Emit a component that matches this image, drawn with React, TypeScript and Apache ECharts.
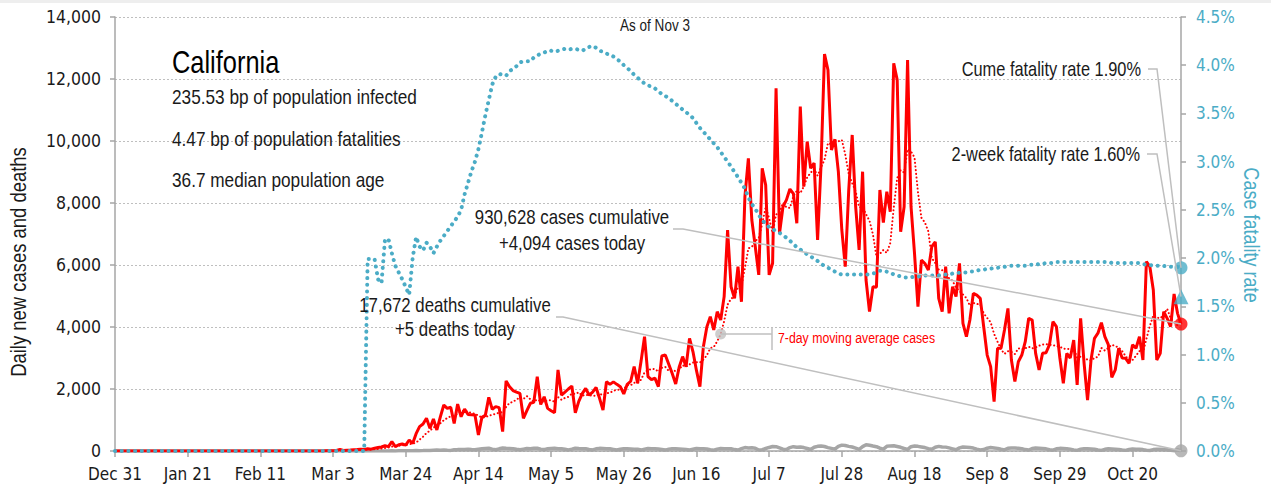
import React, { useEffect, useRef } from 'react';
import * as echarts from 'echarts';

const FONT = '"Liberation Sans", Arial, sans-serif';
const AXIS_FONT = '"DejaVu Sans Condensed", "DejaVu Sans", sans-serif';
const NARROW = 0.82;
const RED = '#ff0000';
const BLUE = '#4bacc6';
const GRAY = '#a6a6a6';
const LEADER = '#bfbfbf';
const TEXT = '#1a1a1a';

const START_YEAR = 2019, START_MONTH = 11, START_DAY = 31;
const N_DAYS = 309;
const MONTHS = ['Jan', 'Feb', 'Mar', 'Apr', 'May', 'Jun', 'Jul', 'Aug', 'Sep', 'Oct', 'Nov', 'Dec'];
const TICK_EVERY = 21;

const TITLE = 'California';
const STATS = ['235.53 bp of population infected', '4.47 bp of population fatalities', '36.7 median population age'];
const AS_OF = 'As of Nov 3';
const LEFT_NAME = 'Daily new cases and deaths';
const RIGHT_NAME = 'Case fatality rate';
const CUM_CASES = '930,628';
const TODAY_CASES = 4094;
const CUM_DEATHS = '17,672';
const TODAY_DEATHS = 5;
const CUME_CFR = 1.9;
const TWO_WEEK_CFR = 1.6;

const Y_LEFT = { min: 0, max: 14000, interval: 2000 };
const Y_RIGHT = { min: 0, max: 4.5, interval: 0.5 };

// daily new cases, Dec 31 .. Nov 3
const CASES = [
  0, 0, 0, 0, 0, 0, 0, 0, 0, 0,
  0, 0, 0, 0, 0, 0, 0, 0, 0, 0,
  0, 0, 0, 0, 0, 0, 0, 0, 0, 0,
  0, 0, 0, 0, 0, 0, 0, 0, 0, 0,
  0, 0, 0, 0, 0, 0, 0, 0, 0, 0,
  0, 0, 0, 0, 0, 0, 0, 0, 0, 0,
  0, 5, 10, 8, 15, 50, 20, 25, 30, 40,
  45, 60, 50, 70, 60, 90, 110, 130, 170, 140,
  300, 140, 200, 225, 190, 355, 240, 560, 785, 870,
  1055, 730, 1030, 680, 1100, 1485, 1375, 1410, 890, 1515,
  1105, 1355, 1180, 1170, 1160, 515, 1085, 1150, 1730, 1345,
  1430, 1400, 625, 2260, 2075, 1950, 1900, 1860, 1055, 1300,
  1540, 1570, 2400, 1500, 1750, 1375, 1300, 1235, 2615, 1805,
  1900, 2000, 2095, 1235, 1600, 1850, 2020, 1800, 1900, 2050,
  1700, 1320, 2240, 2150, 2230, 2150, 2075, 1840, 2150, 2250,
  2720, 2185, 2900, 3690, 2400, 2300, 2350, 2075, 3065, 3100,
  2800, 2500, 2160, 2700, 3045, 2720, 3635, 3200, 2600, 2075,
  3365, 4000, 4335, 3905, 4495, 4225, 4980, 7130, 5300, 4925,
  5945, 4815, 8205, 9440, 7450, 6590, 5680, 9120, 8580, 5680,
  6055, 11700, 7020, 7880, 8100, 8450, 8300, 7345, 11110, 8525,
  9980, 9120, 9290, 6805, 9240, 12805, 12290, 9710, 10055, 9010,
  7130, 5945, 8420, 10195, 7880, 6485, 9010, 5515, 4495, 5300,
  5285, 8420, 7365, 8365, 7720, 12505, 11970, 7075, 7880, 12610,
  7880, 6380, 4655, 6160, 6050, 5840, 6590, 6750, 4925, 4495,
  5945, 4440, 5300, 4980, 6055, 4120, 3690, 4225, 5085, 5030,
  4925, 4000, 3095, 2720, 1590, 3315, 3315, 3905, 4600, 2935,
  2240, 2880, 3095, 3525, 4280, 4225, 3150, 2615, 3150, 3170,
  3430, 4170, 4010, 3000, 2185, 3150, 3000, 3580, 2130, 4280,
  2830, 1645, 2935, 3635, 3800, 4140, 3690, 3430, 2375, 2615,
  3315, 3000, 2990, 2830, 3430, 3315, 3690, 2935, 6110, 5945,
  5195, 2935, 3150, 4495, 4280, 4010, 5065, 4440, 4094,
];

// daily deaths
const DEATHS = [
  0, 0, 0, 0, 0, 0, 0, 0, 0, 0,
  0, 0, 0, 0, 0, 0, 0, 0, 0, 0,
  0, 0, 0, 0, 0, 0, 0, 0, 0, 0,
  0, 0, 0, 0, 0, 0, 0, 0, 0, 0,
  0, 0, 0, 0, 0, 0, 0, 0, 0, 0,
  0, 0, 0, 0, 0, 0, 0, 0, 0, 0,
  0, 0, 0, 0, 1, 0, 0, 1, 0, 1,
  0, 1, 1, 2, 1, 2, 3, 2, 4, 3,
  5, 4, 6, 8, 5, 7, 9, 14, 12, 15,
  20, 18, 25, 30, 28, 35, 22, 20, 40, 45,
  52, 50, 58, 45, 40, 60, 70, 80, 90, 60,
  40, 70, 95, 85, 80, 75, 55, 40, 60, 80,
  75, 85, 90, 60, 45, 70, 80, 85, 75, 70,
  55, 35, 60, 90, 80, 75, 70, 50, 35, 70,
  85, 80, 75, 70, 50, 30, 55, 75, 70, 65,
  60, 55, 30, 60, 80, 75, 70, 65, 50, 30,
  60, 75, 70, 65, 60, 45, 30, 55, 80, 70,
  75, 65, 40, 25, 60, 80, 75, 70, 70, 45,
  30, 75, 110, 95, 105, 90, 30, 40, 80, 115,
  145, 140, 100, 60, 45, 110, 140, 120, 130, 110,
  80, 50, 120, 150, 160, 145, 110, 85, 60, 150,
  190, 175, 150, 130, 95, 55, 140, 200, 185, 160,
  140, 90, 60, 150, 165, 170, 145, 120, 80, 50,
  140, 160, 150, 130, 110, 75, 55, 120, 150, 130,
  125, 100, 70, 40, 100, 130, 120, 110, 95, 60,
  35, 45, 90, 110, 100, 85, 55, 35, 90, 100,
  95, 85, 75, 45, 30, 80, 95, 90, 80, 70,
  40, 25, 70, 85, 80, 75, 60, 35, 20, 60,
  75, 70, 65, 55, 30, 20, 55, 70, 65, 60,
  50, 30, 20, 50, 65, 60, 55, 45, 25, 15,
  45, 60, 55, 50, 40, 20, 10, 40, 5,
];

// cumulative case fatality rate, %
const CFR = [
  0, 0, 0, 0, 0, 0, 0, 0, 0, 0,
  0, 0, 0, 0, 0, 0, 0, 0, 0, 0,
  0, 0, 0, 0, 0, 0, 0, 0, 0, 0,
  0, 0, 0, 0, 0, 0, 0, 0, 0, 0,
  0, 0, 0, 0, 0, 0, 0, 0, 0, 0,
  0, 0, 0, 0, 0, 0, 0, 0, 0, 0,
  0, 0, 0, 0, 0, 0, 0, 0, 0, 0,
  0, 0, 0, 1.99, 1.99, 1.99, 1.78, 1.74, 2.19, 2.2,
  2.05, 1.92, 1.85, 1.78, 1.7, 1.62, 2.0, 2.22, 2.12, 2.08,
  2.16, 2.12, 2.05, 2.12, 2.18, 2.23, 2.28, 2.33, 2.38, 2.43,
  2.5, 2.66, 2.78, 2.9, 3.0, 3.13, 3.3, 3.48, 3.64, 3.8,
  3.88, 3.91, 3.9, 3.89, 3.94, 3.96, 3.99, 4.03, 4.04, 4.04,
  4.04, 4.08, 4.1, 4.12, 4.13, 4.15, 4.15, 4.14, 4.15, 4.16,
  4.17, 4.16, 4.17, 4.17, 4.16, 4.15, 4.17, 4.19, 4.2, 4.18,
  4.15, 4.14, 4.12, 4.11, 4.09, 4.06, 4.04, 4.0, 3.97, 3.94,
  3.9, 3.87, 3.84, 3.81, 3.79, 3.78, 3.76, 3.73, 3.7, 3.68,
  3.66, 3.63, 3.6, 3.57, 3.54, 3.51, 3.49, 3.45, 3.4, 3.35,
  3.31, 3.27, 3.23, 3.19, 3.15, 3.1, 3.05, 3.0, 2.95, 2.89,
  2.84, 2.78, 2.72, 2.63, 2.56, 2.51, 2.45, 2.39, 2.36, 2.32,
  2.3, 2.28, 2.26, 2.24, 2.21, 2.18, 2.15, 2.11, 2.09, 2.06,
  2.04, 2.02, 1.99, 1.97, 1.94, 1.92, 1.9, 1.88, 1.86, 1.84,
  1.83, 1.83, 1.83, 1.83, 1.83, 1.83, 1.83, 1.83, 1.83, 1.84,
  1.85, 1.87, 1.87, 1.86, 1.85, 1.83, 1.82, 1.81, 1.8, 1.8,
  1.8, 1.81, 1.81, 1.81, 1.82, 1.82, 1.82, 1.82, 1.82, 1.83,
  1.83, 1.83, 1.84, 1.84, 1.85, 1.85, 1.85, 1.86, 1.86, 1.87,
  1.88, 1.88, 1.89, 1.89, 1.9, 1.9, 1.91, 1.91, 1.92, 1.92,
  1.92, 1.92, 1.92, 1.92, 1.93, 1.93, 1.93, 1.94, 1.94, 1.95,
  1.95, 1.95, 1.96, 1.96, 1.96, 1.96, 1.96, 1.96, 1.96, 1.96,
  1.96, 1.96, 1.96, 1.96, 1.96, 1.96, 1.96, 1.96, 1.95, 1.95,
  1.95, 1.95, 1.95, 1.95, 1.95, 1.95, 1.95, 1.94, 1.93, 1.93,
  1.92, 1.92, 1.92, 1.92, 1.91, 1.91, 1.91, 1.91, 1.9,
];

const MA_LABEL_DAY = 175;

function buildDates(): string[] {
  const out: string[] = [];
  for (let i = 0; i < N_DAYS; i++) {
    const d = new Date(START_YEAR, START_MONTH, START_DAY + i);
    out.push(MONTHS[d.getMonth()] + ' ' + d.getDate());
  }
  return out;
}

function movingAverage(values: number[], win: number): number[] {
  return values.map((_, i) => {
    const s = Math.max(0, i - win + 1);
    let sum = 0;
    for (let k = s; k <= i; k++) sum += values[k];
    return Math.round(sum / (i - s + 1));
  });
}

export default function App() {
  const ref = useRef<HTMLDivElement>(null);
  useEffect(() => {
    document.body.style.margin = '0';
    const chart = echarts.init(ref.current as HTMLDivElement, null, { renderer: 'svg' });
    const dates = buildDates();
    const ma = movingAverage(CASES, 7);
    const last = N_DAYS - 1;
    const tickShow = (i: number) => i % TICK_EVERY === 0;

    chart.setOption({
      animation: false,
      grid: { left: 115, right: 90, top: 17, bottom: 40, outerBoundsMode: 'none' },
      xAxis: {
        type: 'category',
        data: dates,
        boundaryGap: false,
        axisLine: { lineStyle: { color: GRAY, width: 1.5 } },
        axisTick: { interval: (i: number) => tickShow(i), length: 6, lineStyle: { color: GRAY, width: 1.5 } },
        axisLabel: { interval: (i: number) => tickShow(i), margin: 14, fontFamily: AXIS_FONT, fontSize: 17, color: TEXT },
        splitLine: { show: false },
      },
      yAxis: [
        {
          type: 'value', ...Y_LEFT, position: 'left',
          axisLine: { show: true, lineStyle: { color: GRAY, width: 1.5 } },
          axisTick: { show: true, length: 5, lineStyle: { color: GRAY, width: 1.5 } },
          axisLabel: { formatter: (v: number) => v.toLocaleString('en-US'), margin: 14, fontFamily: AXIS_FONT, fontSize: 17.5, color: TEXT },
          splitLine: { show: true, lineStyle: { color: '#bfbfbf', type: [2, 2], width: 1 } },
        },
        {
          type: 'value', ...Y_RIGHT, position: 'right',
          axisLine: { show: true, lineStyle: { color: GRAY, width: 1.5 } },
          axisTick: { show: true, length: 5, lineStyle: { color: GRAY, width: 1.5 } },
          axisLabel: { formatter: (v: number) => v.toFixed(1) + '%', margin: 15, fontFamily: AXIS_FONT, fontSize: 17, color: BLUE },
          splitLine: { show: false },
        },
      ],
      series: [
        {
          name: 'deaths', type: 'line', yAxisIndex: 0, data: DEATHS, showSymbol: false, z: 2,
          lineStyle: { color: GRAY, width: 3.5 }, itemStyle: { color: GRAY },
        },
        {
          name: 'cases', type: 'line', yAxisIndex: 0, data: CASES, showSymbol: false, z: 3,
          lineStyle: { color: RED, width: 3 }, itemStyle: { color: RED },
        },
        {
          name: 'ma', type: 'line', yAxisIndex: 0, data: ma, showSymbol: false, z: 4,
          lineStyle: { color: RED, width: 2, type: [0.1, 3.6], cap: 'round' }, itemStyle: { color: RED },
        },
        {
          name: 'cfr', type: 'line', yAxisIndex: 1, data: CFR, showSymbol: false, z: 5,
          lineStyle: { color: BLUE, width: 4, type: [0.1, 6.6], cap: 'round' }, itemStyle: { color: BLUE },
        },
        {
          type: 'scatter', yAxisIndex: 0, z: 10, symbol: 'circle', symbolSize: 13,
          data: [[last, TODAY_CASES]], itemStyle: { color: RED },
        },
        {
          type: 'scatter', yAxisIndex: 0, z: 10, symbol: 'circle', symbolSize: 13,
          data: [[last, TODAY_DEATHS]], itemStyle: { color: GRAY },
        },
        {
          type: 'scatter', yAxisIndex: 1, z: 10, symbol: 'circle', symbolSize: 13,
          data: [[last, CUME_CFR]], itemStyle: { color: BLUE },
        },
        {
          type: 'scatter', yAxisIndex: 1, z: 10, symbol: 'triangle', symbolSize: 15,
          data: [[last, TWO_WEEK_CFR]], itemStyle: { color: BLUE },
        },
        {
          type: 'scatter', yAxisIndex: 0, z: 10, symbol: 'circle', symbolSize: 11,
          data: [[MA_LABEL_DAY, ma[MA_LABEL_DAY]]], itemStyle: { color: '#c0c0c0' },
        },
      ],
    });

    const pL = (i: number, v: number) => chart.convertToPixel({ seriesIndex: 1 }, [i, v]) as number[];
    const pR = (i: number, v: number) => chart.convertToPixel({ seriesIndex: 3 }, [i, v]) as number[];
    const caseDot = pL(last, TODAY_CASES);
    const deathDot = pL(last, TODAY_DEATHS);
    const cumeDot = pR(last, CUME_CFR);
    const twoDot = pR(last, TWO_WEEK_CFR);
    const maDot = pL(MA_LABEL_DAY, ma[MA_LABEL_DAY]);

    const txt = (x: number, y: number, text: string, size: number, align: string, fill = TEXT, rotation = 0) => ({
      type: 'text', x, y, z: 20, scaleX: NARROW, rotation,
      style: { text, font: `${size}px ${FONT}`, fill, textAlign: align, textVerticalAlign: 'middle' },
    });
    const line = (pts: number[][]) => ({
      type: 'polyline', z: 15, shape: { points: pts },
      style: { stroke: LEADER, lineWidth: 1.5, fill: null },
    });

    chart.setOption({
      graphic: [
        { type: 'rect', shape: { x: 0, y: 0, width: 1271, height: 3 }, style: { fill: '#eeeeee' } },
        txt(172, 62, TITLE, 31, 'left', '#000'),
        txt(172, 97, STATS[0], 21, 'left'),
        txt(172, 139, STATS[1], 21, 'left'),
        txt(172, 180, STATS[2], 21, 'left'),
        txt(655, 25, AS_OF, 16.5, 'center'),
        txt(18, 262, LEFT_NAME, 22.5, 'center', TEXT, Math.PI / 2),
        txt(1252, 235, RIGHT_NAME, 22, 'center', BLUE, -Math.PI / 2),
        line([[673, 229], [683, 229], caseDot]),
        txt(572, 217, `${CUM_CASES} cases cumulative`, 20.5, 'center'),
        txt(572, 243, `+${TODAY_CASES.toLocaleString('en-US')} cases today`, 20.5, 'center'),
        line([[556, 317], [563, 317], deathDot]),
        txt(455, 305, `${CUM_DEATHS} deaths cumulative`, 20.5, 'center'),
        txt(455, 329, `+${TODAY_DEATHS} deaths today`, 20.5, 'center'),
        line([[1148, 69], [1157, 69], cumeDot]),
        txt(1141, 69, `Cume fatality rate ${CUME_CFR.toFixed(2)}%`, 20, 'right'),
        line([[1147, 154], [1157, 154], twoDot]),
        txt(1140, 154, `2-week fatality rate ${TWO_WEEK_CFR.toFixed(2)}%`, 20, 'right'),
        line([maDot, [772, maDot[1]]]),
        line([[772, 327], [772, 350]]),
        txt(778, 338, '7-day moving average cases', 15, 'left', RED),
      ],
    });
    return () => chart.dispose();
  }, []);
  return <div ref={ref} style={{ width: 1271, height: 491 }} />;
}
